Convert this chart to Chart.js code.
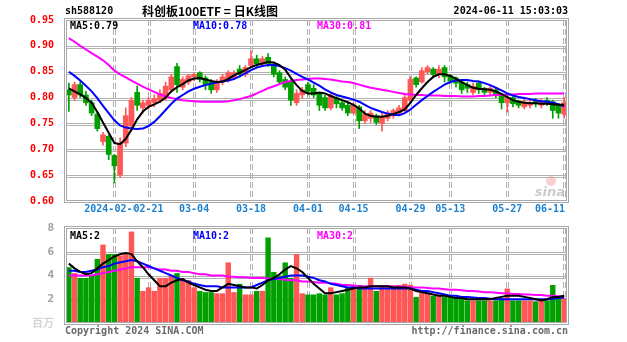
<!DOCTYPE html>
<html>
<head>
<meta charset="utf-8">
<script src="https://cdn.jsdelivr.net/npm/chart.js@4.4.1/dist/chart.umd.min.js"></script>
<style>
  body { margin: 0; background: #fff; }
  #wrap { position: relative; width: 627px; height: 342px; }
  #kline { position: absolute; left: 0; top: 0; }
  #volume { position: absolute; left: 0; top: 215px; }
</style>
</head>
<body>
<div id="wrap">
  <canvas id="kline" width="627" height="215"></canvas>
  <canvas id="volume" width="627" height="127"></canvas>
</div>
<script>
// 日K线 sh588120
const dates = [
  '2024-01-24','2024-01-25','2024-01-26','2024-01-29','2024-01-30','2024-01-31',
  '2024-02-01','2024-02-02','2024-02-05','2024-02-06','2024-02-07','2024-02-08',
  '2024-02-19','2024-02-20','2024-02-21','2024-02-22','2024-02-23','2024-02-26',
  '2024-02-27','2024-02-28','2024-02-29','2024-03-01','2024-03-04','2024-03-05',
  '2024-03-06','2024-03-07','2024-03-08','2024-03-11','2024-03-12','2024-03-13',
  '2024-03-14','2024-03-15','2024-03-18','2024-03-19','2024-03-20','2024-03-21',
  '2024-03-22','2024-03-25','2024-03-26','2024-03-27','2024-03-28','2024-03-29',
  '2024-04-01','2024-04-02','2024-04-03','2024-04-08','2024-04-09','2024-04-10',
  '2024-04-11','2024-04-12','2024-04-15','2024-04-16','2024-04-17','2024-04-18',
  '2024-04-19','2024-04-22','2024-04-23','2024-04-24','2024-04-25','2024-04-26',
  '2024-04-29','2024-04-30','2024-05-06','2024-05-07','2024-05-08','2024-05-09',
  '2024-05-10','2024-05-13','2024-05-14','2024-05-15','2024-05-16','2024-05-17',
  '2024-05-20','2024-05-21','2024-05-22','2024-05-23','2024-05-24','2024-05-27',
  '2024-05-28','2024-05-29','2024-05-30','2024-05-31','2024-06-03','2024-06-04',
  '2024-06-05','2024-06-06','2024-06-07','2024-06-11'
];

const opens = [
  0.815,0.800,0.825,0.805,0.790,0.768,0.715,0.725,0.688,0.650,
  0.712,0.745,0.810,0.780,0.785,0.790,0.795,0.800,0.815,0.860,
  0.820,0.830,0.840,0.848,0.838,0.830,0.815,0.830,0.835,0.838,
  0.855,0.845,0.862,0.875,0.865,0.878,0.865,0.848,0.835,0.830,
  0.790,0.805,0.825,0.818,0.808,0.800,0.780,0.800,0.790,0.785,
  0.770,0.782,0.755,0.760,0.765,0.750,0.760,0.765,0.770,0.775,
  0.795,0.838,0.830,0.850,0.855,0.845,0.858,0.842,0.838,0.830,
  0.825,0.810,0.828,0.818,0.810,0.815,0.805,0.790,0.800,0.792,
  0.782,0.785,0.795,0.785,0.795,0.792,0.785,0.768
];
const highs = [
  0.828,0.830,0.830,0.812,0.795,0.772,0.733,0.728,0.690,0.722,
  0.780,0.800,0.822,0.795,0.800,0.805,0.815,0.830,0.845,0.866,
  0.840,0.845,0.848,0.850,0.842,0.835,0.835,0.845,0.852,0.852,
  0.862,0.862,0.890,0.882,0.880,0.885,0.868,0.852,0.840,0.835,
  0.815,0.820,0.830,0.825,0.810,0.805,0.810,0.802,0.795,0.790,
  0.790,0.785,0.775,0.775,0.768,0.770,0.775,0.778,0.785,0.808,
  0.840,0.840,0.858,0.862,0.858,0.862,0.862,0.845,0.840,0.835,
  0.830,0.828,0.832,0.820,0.822,0.818,0.808,0.805,0.802,0.795,
  0.798,0.795,0.798,0.798,0.800,0.795,0.788,0.800
];
const lows = [
  0.773,0.795,0.800,0.785,0.765,0.735,0.708,0.680,0.635,0.645,
  0.705,0.740,0.775,0.770,0.778,0.782,0.790,0.795,0.810,0.810,
  0.815,0.825,0.832,0.830,0.815,0.808,0.810,0.825,0.830,0.835,
  0.840,0.840,0.858,0.860,0.862,0.860,0.840,0.825,0.815,0.785,
  0.785,0.798,0.805,0.800,0.775,0.775,0.776,0.780,0.775,0.765,
  0.768,0.740,0.750,0.752,0.748,0.735,0.755,0.760,0.765,0.772,
  0.792,0.820,0.828,0.845,0.840,0.838,0.830,0.828,0.820,0.808,
  0.810,0.805,0.808,0.805,0.805,0.800,0.778,0.772,0.782,0.780,
  0.778,0.780,0.782,0.780,0.785,0.760,0.760,0.760
];
const closes = [
  0.805,0.825,0.805,0.790,0.770,0.740,0.728,0.690,0.668,0.712,
  0.765,0.795,0.785,0.790,0.795,0.798,0.808,0.822,0.840,0.825,
  0.835,0.842,0.845,0.835,0.825,0.815,0.830,0.840,0.848,0.848,
  0.845,0.858,0.875,0.865,0.875,0.865,0.845,0.830,0.820,0.795,
  0.808,0.815,0.812,0.805,0.785,0.780,0.805,0.788,0.780,0.770,
  0.785,0.755,0.768,0.770,0.752,0.762,0.770,0.775,0.780,0.800,
  0.835,0.825,0.852,0.858,0.845,0.855,0.840,0.832,0.828,0.815,
  0.818,0.822,0.815,0.810,0.818,0.805,0.790,0.800,0.788,0.785,
  0.792,0.790,0.788,0.792,0.790,0.775,0.770,0.790
];

const ma5 = [
  0.818,0.812,0.806,0.799,0.790,0.772,0.752,0.732,0.712,0.710,
  0.720,0.738,0.758,0.773,0.782,0.787,0.792,0.800,0.812,0.820,
  0.826,0.833,0.837,0.838,0.835,0.832,0.830,0.831,0.836,0.843,
  0.848,0.853,0.859,0.863,0.866,0.869,0.868,0.863,0.854,0.838,
  0.824,0.813,0.808,0.808,0.810,0.808,0.803,0.799,0.795,0.791,
  0.786,0.779,0.769,0.765,0.763,0.763,0.765,0.768,0.772,0.777,
  0.790,0.805,0.818,0.830,0.840,0.845,0.845,0.842,0.836,0.830,
  0.824,0.819,0.817,0.816,0.815,0.812,0.807,0.801,0.795,0.792,
  0.790,0.789,0.789,0.788,0.788,0.787,0.786,0.786
];
const ma10 = [
  0.850,0.842,0.833,0.823,0.812,0.799,0.784,0.770,0.756,0.746,
  0.742,0.740,0.739,0.740,0.745,0.753,0.764,0.776,0.788,0.798,
  0.805,0.812,0.817,0.821,0.824,0.827,0.829,0.831,0.833,0.836,
  0.841,0.847,0.853,0.858,0.861,0.863,0.863,0.861,0.857,0.852,
  0.846,0.840,0.835,0.829,0.823,0.816,0.810,0.805,0.802,0.799,
  0.796,0.792,0.786,0.780,0.776,0.772,0.769,0.767,0.766,0.770,
  0.777,0.786,0.795,0.803,0.811,0.818,0.825,0.830,0.833,0.834,
  0.834,0.832,0.831,0.828,0.824,0.819,0.814,0.808,0.804,0.801,
  0.799,0.797,0.795,0.793,0.792,0.790,0.787,0.783
];
const ma30 = [
  0.915,0.908,0.900,0.893,0.886,0.879,0.872,0.863,0.852,0.845,
  0.839,0.833,0.827,0.821,0.816,0.811,0.806,0.802,0.799,0.797,
  0.795,0.794,0.793,0.792,0.792,0.792,0.792,0.792,0.793,0.795,
  0.797,0.800,0.803,0.808,0.813,0.818,0.822,0.826,0.830,0.832,
  0.834,0.835,0.836,0.837,0.837,0.836,0.835,0.833,0.831,0.830,
  0.828,0.825,0.822,0.819,0.817,0.815,0.813,0.811,0.809,0.807,
  0.806,0.805,0.805,0.804,0.804,0.804,0.803,0.803,0.803,0.802,
  0.802,0.802,0.803,0.803,0.804,0.805,0.805,0.806,0.806,0.807,
  0.807,0.807,0.808,0.808,0.808,0.808,0.808,0.808
];

// 成交量（百万）
const volumes = [
  4.7,4.2,3.8,3.8,4.0,5.4,6.6,5.8,5.8,5.7,
  5.8,7.7,3.8,2.7,3.0,2.7,3.8,3.8,4.0,4.2,
  3.6,3.6,3.0,2.7,2.6,2.6,2.5,2.5,5.1,2.6,
  3.3,2.4,2.4,2.7,2.7,7.2,4.3,4.0,5.1,3.8,
  5.8,2.5,2.4,2.4,2.5,2.4,3.0,2.4,2.5,3.0,
  3.2,3.2,3.0,3.8,2.7,3.2,3.0,2.9,3.2,3.3,
  3.2,2.2,2.6,2.6,2.3,2.4,2.2,2.2,2.2,2.2,
  1.9,1.9,1.9,1.9,1.9,1.9,2.1,2.9,1.9,1.9,
  1.9,1.9,1.8,1.9,1.9,3.2,2.2,2.1
];
const volMa5 = [
  5.0,4.6,4.3,4.1,4.2,4.6,5.0,5.3,5.6,5.8,
  5.9,5.8,5.2,4.7,4.1,3.6,3.1,3.1,3.4,3.6,
  3.7,3.4,3.2,3.0,2.8,2.7,2.7,3.0,3.3,3.2,
  3.1,3.0,3.0,2.9,3.2,3.6,3.8,4.1,4.5,4.8,
  4.6,4.3,3.8,3.3,2.9,2.5,2.5,2.6,2.7,2.8,
  2.9,3.0,3.0,3.1,3.1,3.1,3.1,3.0,3.0,3.0,
  2.9,2.7,2.6,2.5,2.4,2.3,2.3,2.2,2.1,2.1,
  2.0,2.0,2.0,2.0,2.0,2.1,2.2,2.3,2.3,2.3,
  2.2,2.1,2.0,1.9,2.0,2.2,2.2,2.3
];
const volMa10 = [
  4.4,4.4,4.3,4.3,4.4,4.5,4.7,4.8,5.0,5.1,
  5.2,5.3,5.2,5.0,4.8,4.6,4.4,4.2,4.0,3.8,
  3.6,3.5,3.3,3.2,3.1,3.1,3.1,3.0,3.0,3.0,
  3.0,3.0,3.0,3.2,3.4,3.6,3.7,3.8,3.9,4.0,
  4.0,4.0,3.9,3.8,3.6,3.5,3.3,3.2,3.1,3.0,
  3.0,2.9,2.9,2.9,2.9,2.9,2.9,2.9,2.9,2.9,
  2.9,2.8,2.7,2.7,2.6,2.5,2.4,2.3,2.3,2.2,
  2.2,2.15,2.1,2.1,2.05,2.0,2.0,2.0,2.0,2.0,
  2.0,2.0,2.0,2.0,2.0,2.05,2.1,2.15
];
const volMa30 = [
  4.0,4.0,4.0,4.0,4.0,4.1,4.2,4.3,4.4,4.5,
  4.6,4.7,4.7,4.7,4.7,4.6,4.5,4.5,4.4,4.4,
  4.3,4.3,4.2,4.1,4.1,4.0,4.0,4.0,3.9,3.9,
  3.85,3.85,3.8,3.8,3.8,3.75,3.7,3.7,3.65,3.6,
  3.6,3.5,3.5,3.45,3.4,3.4,3.35,3.3,3.2,3.2,
  3.15,3.1,3.1,3.1,3.1,3.1,3.1,3.1,3.05,3.05,
  3.0,3.0,3.0,2.95,2.9,2.9,2.85,2.8,2.8,2.75,
  2.7,2.7,2.65,2.6,2.6,2.55,2.5,2.5,2.45,2.45,
  2.4,2.4,2.35,2.35,2.3,2.3,2.25,2.25
];

// dates that get a vertical grid line and an axis label
const gridDates = ['2024-02-05','2024-02-21','2024-03-04','2024-03-18','2024-04-01',
                   '2024-04-15','2024-04-29','2024-05-13','2024-05-27','2024-06-11'];
const priceTicks = [0.60, 0.65, 0.70, 0.75, 0.80, 0.85, 0.90, 0.95];
const volumeTicks = [2, 4, 6, 8];

const RED = '#ff5656';
const GREEN = '#00a000';
const GRID = '#b2b2b2';
const MONO = 'bold 10px "DejaVu Sans Mono", monospace';

const upDown = closes.map((c, i) => c >= opens[i] ? RED : GREEN);

function drawGrid(chart, ticks) {
    const { ctx, chartArea: a, scales: { x, y } } = chart;
    ctx.save();
    ctx.strokeStyle = GRID;
    ctx.lineWidth = 1;
    ticks.forEach(v => {
        const py = Math.round(y.getPixelForValue(v)) + 0.5;
        if (py < a.top + 2 || py > a.bottom - 2) return;
        ctx.beginPath();
        ctx.moveTo(a.left, py); ctx.lineTo(a.right, py);
        ctx.moveTo(a.left, py + 2); ctx.lineTo(a.right, py + 2);
        ctx.stroke();
    });
    ctx.setLineDash([6, 3]);
    gridDates.forEach(d => {
        const px = Math.round(x.getPixelForValue(dates.indexOf(d))) + 0.5;
        ctx.beginPath();
        ctx.moveTo(px - 1, a.top); ctx.lineTo(px - 1, a.bottom);
        ctx.moveTo(px + 1, a.top); ctx.lineTo(px + 1, a.bottom);
        ctx.stroke();
    });
    ctx.restore();
}

function drawBorder(chart) {
    const { ctx, chartArea: a } = chart;
    ctx.save();
    ctx.strokeStyle = '#a8a8a8';
    ctx.lineWidth = 1;
    ctx.strokeRect(Math.round(a.left) - 1.5, Math.round(a.top) - 1.5,
                   Math.round(a.right - a.left) + 3, Math.round(a.bottom - a.top) + 3);
    ctx.strokeRect(Math.round(a.left) + 0.5, Math.round(a.top) + 0.5,
                   Math.round(a.right - a.left) - 1, Math.round(a.bottom - a.top) - 1);
    ctx.restore();
}

function drawMaLabels(ctx, y, items) {
    ctx.save();
    ctx.font = MONO;
    ctx.textBaseline = 'middle';
    ctx.textAlign = 'left';
    items.forEach(([text, color, x]) => {
        ctx.fillStyle = color;
        ctx.fillText(text, x, y);
    });
    ctx.restore();
}

const klineFrame = {
    id: 'klineFrame',
    beforeDatasetsDraw(chart) {
        const { ctx, chartArea: a } = chart;
        drawGrid(chart, priceTicks);
        // sina watermark
        ctx.save();
        ctx.fillStyle = 'rgba(240,150,150,0.45)';
        ctx.beginPath();
        ctx.arc(a.right - 16, a.bottom - 20, 5, 0, Math.PI * 2);
        ctx.fill();
        ctx.font = 'italic bold 13px "DejaVu Sans", sans-serif';
        ctx.fillStyle = 'rgba(190,190,190,0.8)';
        ctx.textAlign = 'right';
        ctx.textBaseline = 'bottom';
        ctx.fillText('sina', a.right - 2, a.bottom - 2);
        ctx.restore();
    },
    afterDatasetsDraw(chart) {
        const { ctx, chartArea: a, scales: { x } } = chart;
        drawBorder(chart);
        drawMaLabels(ctx, a.top + 6, [
            ['MA5:' + ma5[ma5.length - 1].toFixed(2), '#000000', 70],
            ['MA10:' + ma10[ma10.length - 1].toFixed(2), '#0000ff', 193],
            ['MA30:' + ma30[ma30.length - 1].toFixed(2), '#ff00ff', 317]
        ]);

        ctx.save();
        ctx.textBaseline = 'middle';
        // header
        ctx.font = MONO;
        ctx.fillStyle = '#000';
        ctx.textAlign = 'left';
        ctx.fillText('sh588120', 65, 11);
        ctx.textAlign = 'right';
        ctx.fillText('2024-06-11 15:03:03', 568, 11);
        ctx.textAlign = 'left';
        ctx.font = 'bold 12px "Noto Sans CJK SC", sans-serif';
        ctx.fillText('科创板100ETF = 日K线图', 142, 11);

        // date axis
        ctx.font = MONO;
        gridDates.forEach((d, k) => {
            const text = k === 0 ? d : d.slice(5);
            const w = ctx.measureText(text).width;
            let cx = x.getPixelForValue(dates.indexOf(d));
            cx = Math.min(cx, a.right - 2 - w / 2);
            ctx.fillStyle = '#fff';
            ctx.fillRect(cx - w / 2, a.bottom + 2, w, 11);
            ctx.fillStyle = '#1a80d0';
            ctx.textAlign = 'center';
            ctx.fillText(text, cx, a.bottom + 8);
        });
        ctx.restore();
    }
};

const volumeFrame = {
    id: 'volumeFrame',
    beforeDatasetsDraw(chart) {
        drawGrid(chart, volumeTicks);
    },
    afterDatasetsDraw(chart) {
        const { ctx, chartArea: a } = chart;
        drawBorder(chart);
        drawMaLabels(ctx, a.top + 8, [
            ['MA5:' + volMa5[volMa5.length - 1].toFixed(0), '#000000', 70],
            ['MA10:' + volMa10[volMa10.length - 1].toFixed(0), '#0000ff', 193],
            ['MA30:' + volMa30[volMa30.length - 1].toFixed(0), '#ff00ff', 317]
        ]);
        ctx.save();
        ctx.textBaseline = 'middle';
        ctx.font = MONO;
        ctx.fillStyle = '#6a6a6a';
        ctx.textAlign = 'left';
        ctx.fillText('Copyright 2024 SINA.COM', 65, a.bottom + 8);
        ctx.textAlign = 'right';
        ctx.fillText('http://finance.sina.com.cn', 568, a.bottom + 8);
        ctx.font = 'bold 11px "Noto Sans CJK SC", sans-serif';
        ctx.fillStyle = '#d6d6d6';
        ctx.fillText('百万', 54, a.bottom);
        ctx.restore();
    }
};

function maLine(label, data, color) {
    return {
        type: 'line', label, data,
        borderColor: color, borderWidth: 2,
        pointRadius: 0, tension: 0, order: 0
    };
}

function fixedWidth(scale) { scale.width = 66; }

new Chart(document.getElementById('kline'), {
    type: 'bar',
    data: {
        labels: dates,
        datasets: [
            {
                label: 'wick',
                data: lows.map((l, i) => [l, highs[i]]),
                backgroundColor: upDown,
                barThickness: 1,
                grouped: false,
                order: 2
            },
            {
                label: 'body',
                data: opens.map((o, i) => [o, closes[i]]),
                backgroundColor: upDown,
                barThickness: 5,
                minBarLength: 1,
                grouped: false,
                order: 1
            },
            maLine('MA5', ma5, '#000000'),
            maLine('MA10', ma10, '#0000ff'),
            maLine('MA30', ma30, '#ff00ff')
        ]
    },
    options: {
        responsive: false,
        animation: false,
        events: [],
        layout: { padding: { top: 20, right: 60, bottom: 14, left: 0 } },
        plugins: { legend: { display: false }, tooltip: { enabled: false } },
        scales: {
            x: { display: false },
            y: {
                min: 0.6,
                max: 0.95,
                afterFit: fixedWidth,
                afterBuildTicks(scale) { scale.ticks = priceTicks.map(v => ({ value: v })); },
                grid: { display: false },
                border: { display: false },
                ticks: {
                    color: '#ff0000',
                    font: { family: '"DejaVu Sans Mono", monospace', size: 10, weight: 'bold' },
                    padding: 4,
                    callback: v => v.toFixed(2)
                }
            }
        }
    },
    plugins: [klineFrame]
});

new Chart(document.getElementById('volume'), {
    type: 'bar',
    data: {
        labels: dates,
        datasets: [
            {
                label: 'volume',
                data: volumes,
                backgroundColor: upDown,
                barPercentage: 0.95,
                categoryPercentage: 1,
                order: 1
            },
            maLine('MA5', volMa5, '#000000'),
            maLine('MA10', volMa10, '#0000ff'),
            maLine('MA30', volMa30, '#ff00ff')
        ]
    },
    options: {
        responsive: false,
        animation: false,
        events: [],
        layout: { padding: { top: 13, right: 60, bottom: 19, left: 0 } },
        plugins: { legend: { display: false }, tooltip: { enabled: false } },
        scales: {
            x: { display: false },
            y: {
                min: 0,
                max: 8,
                afterFit: fixedWidth,
                afterBuildTicks(scale) { scale.ticks = volumeTicks.map(v => ({ value: v })); },
                grid: { display: false },
                border: { display: false },
                ticks: {
                    color: '#a0a0a0',
                    font: { family: '"DejaVu Sans Mono", monospace', size: 11, weight: 'bold' },
                    padding: 4
                }
            }
        }
    },
    plugins: [volumeFrame]
});
</script>
</body>
</html>
